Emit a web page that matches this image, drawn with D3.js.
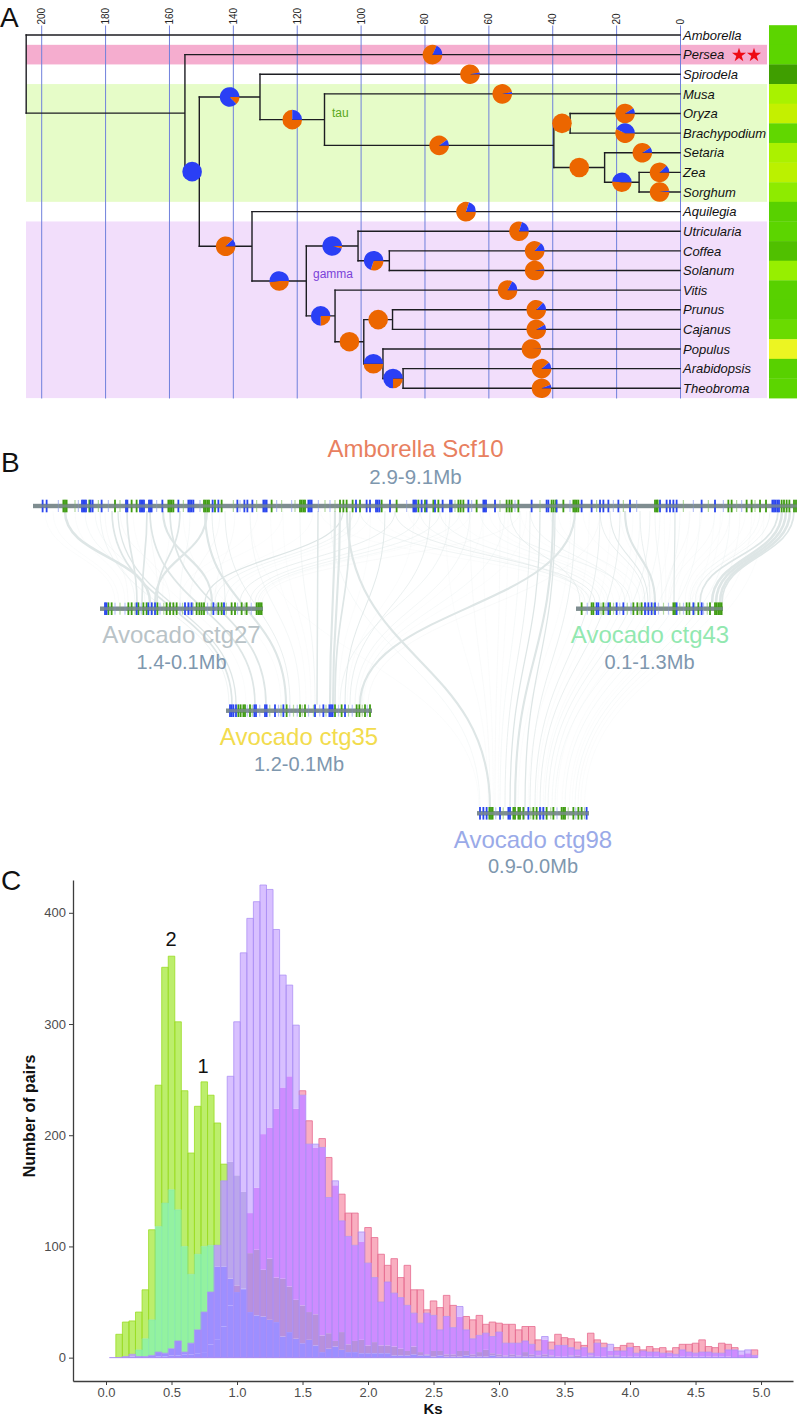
<!DOCTYPE html>
<html>
<head>
<meta charset="utf-8">
<script src="https://cdn.jsdelivr.net/npm/d3@7/dist/d3.min.js"></script>
<style>
  html, body { margin: 0; padding: 0; background: #fff; }
  text { font-family: "Liberation Sans", Arial, sans-serif; }
</style>
</head>
<body>
<div id="chart"></div>
<script>
// **** THE DATA ****

// --> panel A, the tree: one row per node, children keep their drawing order
const treeNodes   = ["root","n1","Amborella","Persea","n2","n3","n9","Spirodela","n4","Musa","n5","n6","n7","Oryza","Brachypodium","Setaria","n8","Zea","Sorghum","Aquilegia","n10","n11","n12","Utricularia","n13","Coffea","Solanum","Vitis","n14","n15","n16","Prunus","Cajanus","Populus","n17","Arabidopsis","Theobroma"]
const treeParents = [null,"root","root","n1","n1","n2","n2","n3","n3","n4","n4","n5","n5","n6","n6","n7","n7","n8","n8","n9","n9","n10","n10","n11","n11","n13","n13","n12","n12","n14","n14","n15","n15","n16","n16","n17","n17"]
// age in million years
const treeAges    = [204.7,155,0,0,150.5,131.5,134,0,111.3,0,39.5,34.4,23.6,0,0,0,12.8,0,0,0,117,100.8,108,0,91,0,0,0,99,90,93,0,0,0,86.7,0,0]
// share of the blue slice in the pie on the branch, null means no pie
const blueShare   = [null,null,null,.18,1,.87,.12,.03,.25,.03,.1,0,0,.09,.43,.09,.49,.12,.02,.2,.52,.96,.75,.2,.7,.14,.02,.17,0,0,.5,.13,.08,.003,.75,.11,.06]

const speciesNames = ["Amborella","Persea","Spirodela","Musa","Oryza","Brachypodium","Setaria","Zea","Sorghum","Aquilegia","Utricularia","Coffea","Solanum","Vitis","Prunus","Cajanus","Populus","Arabidopsis","Theobroma"]
const heatValues   = [.36,.36,0,.7,.85,.38,.72,.8,.58,.33,.36,.22,.62,.33,.33,.42,1,.33,.36]
const ageTicks     = [200,180,160,140,120,100,80,60,40,20,0]

// --> panel B, gene positions are kb from the start of each region
const amborellaBlue  = [77,109,392,403,413,424,461,477,549,744,755,856,867,877,888,928,939,949,1035,1163,1243,1256,1269,1283,1437,1483,1635,1691,1715,1755,1843,1856,1869,2203,2216,2229,2584,2669,2696,2744,2757,2771,2856,3043,3053,3064,3109,3149,3216,3277,3336,3349,3483,3603,3613,3624,3696,3989,4109,4123,4189,4389,4469,4536,4563,4603,4683,4776,5016,5069,5096,5123,5149,5349,5456,5915,5928,5941,5955,5968]
const amborellaGreen = [243,256,269,451,656,789,829,1083,1096,1109,1123,1368,1381,1395,1408,1456,1509,1909,2136,2149,2163,2176,2456,2483,2509,2557,2616,2789,2909,3083,3136,3203,3243,3403,3421,3443,3549,3789,3811,3829,3883,4149,4165,4184,4243,4323,4336,4349,4363,4976,4989,4997,5563,5589,5709,5749,5816,5864,5989,6008,6029,6051,6088,6104]
const amborellaPale  = [203,336,363,523,603,696,989,1203,1336,1603,1656,1789,1949,1989,2069,2096,2283,2336,2376,2416,2989,3376,3509,3736,3856,4056,4296,4509,4643,4723,4829,5203,5283,5403,5523,5629,5669,5776]

const ctg27Blue  = [40,51,293,387,413,440,680,707,733,907,992]
const ctg27Green = [67,93,227,253,307,347,373,459,533,560,587,613,773,795,813,832,947,973,1053,1080,1133,1173,1253,1267,1280,1293]
const ctg27Pale  = [120,160,200,280,330,420,480,510,640,660,720,745,860,890,930,1010,1100,1160,1210]
const ctg43Blue  = [165,179,259,325,379,552,579,605,632,805,939,1005]
const ctg43Green = [45,125,139,219,272,459,491,525,779,792,885,907,979,1072,1112,1125,1139,1152,1165]
const ctg43Pale  = [90,200,240,300,350,410,440,510,560,620,660,700,740,830,860,950,1020,1050]
const ctg35Blue  = [32,45,59,80,227,240,312,325,392,459,712,779,827,840,853,952]
const ctg35Green = [99,117,139,152,192,485,592,632,872,925,1045,1067,1112,1152]
const ctg35Pale  = [170,210,270,350,420,440,510,540,570,610,660,700,750,800,900,980,1010,1090,1130]
const ctg98Blue  = [24,51,77,184,251,264,411,504,531,877]
const ctg98Green = [99,112,125,291,304,331,344,371,451,477,557,611,677,691,704,771,811,837]
const ctg98Pale  = [150,210,380,430,520,590,640,730,790,860]

// links: kb on Amborella, kb on the contig, weight of the ribbon
const ctg27Links = [[256,400,3],[752,296,2],[912,336,2],[1040,896,2.5],[1176,456,2],[1392,440,2.5],[1432,1000,1],[416,280,.6],[496,360,.6],[696,560,.5],[1496,720,.5],[1616,920,.5],[2480,840,1.5],[2560,920,.8],[2616,1000,.6],[2896,1120,1],[3096,1200,.8],[3256,1240,.8],[3416,1264,.6],[3896,1296,.5],[96,120,.4],[336,200,.4],[576,224,.5],[936,464,.5],[1256,640,.6],[1800,640,.4],[2000,700,.4],[2240,900,.4],[2700,1050,.4],[3500,1280,.4],[160,150,.4],[1100,500,.4]]
const ctg35Links = [[632,48,2],[680,80,1.5],[536,24,.8],[936,232,2],[1096,320,2],[1376,480,2.5],[1536,512,1],[1736,592,.7],[2136,712,.7],[2280,728,1.8],[2416,832,2.5],[2456,856,2.5],[2536,872,2],[2816,952,1.2],[3176,992,1],[3496,1032,.7],[4336,1072,2.5],[3776,1088,.6],[3336,912,.8],[4536,1136,.5],[1900,640,.4],[2000,680,.4],[2700,900,.4],[3050,970,.4],[3600,1060,.4],[3950,1100,.4],[800,160,.4],[1200,440,.4]]
const ctg98Links = [[2512,104,2.5],[2376,24,.6],[1736,16,.4],[4160,304,2.5],[4056,264,1.5],[3976,224,1],[4176,384,1.5],[4336,424,1],[4536,464,1],[4696,504,1],[4856,544,.6],[4936,568,.8],[5176,624,.6],[5336,704,.6],[5576,784,.6],[5656,808,.5],[3896,184,.6],[3736,144,.5],[3496,104,.5],[5016,600,.6],[3300,90,.4],[3600,130,.4],[3800,170,.4],[4300,330,.4],[4450,410,.4],[4620,480,.4],[4800,530,.4],[5100,640,.4],[5250,680,.4],[5450,740,.4],[5500,760,.4],[5750,830,.4],[5850,860,.4]]
const ctg43Links = [[2616,112,.8],[2896,152,1],[3096,72,.7],[3256,192,.8],[3576,256,.6],[3816,32,1],[3976,392,.8],[3720,432,.8],[4136,512,.6],[4536,552,1],[4616,576,1.2],[4736,632,2.5],[4856,592,1],[4976,688,.7],[5136,784,1.5],[5256,712,.5],[5456,752,.5],[5576,872,.5],[5816,912,.6],[5896,952,.8],[5960,992,2],[5992,1088,3],[6024,1120,3],[6056,1152,3],[6088,1168,2],[2300,60,.4],[2750,120,.4],[3000,100,.4],[3400,230,.4],[3650,300,.4],[3900,350,.4],[4200,450,.4],[4400,540,.4],[4700,610,.4],[5050,720,.4],[5350,740,.4],[5520,820,.4],[5700,900,.4],[5780,930,.4],[5850,960,.4]]

// --> panel C, number of pairs per Ks bin, bins are centred on 0.05, 0.10 ... 4.95
const greenPairs  = [0,21,32,33,41,61,115,245,351,361,302,240,184,226,248,236,211,174,176,164,149,94,97,79,89,72,71,64,52,47,41,39,20,22,15,23,12,15,16,11,14,11,11,10,8,6,10,5,3,6,6,3,3,6,6,3,5,7,4,3,2,3,2,5,3,2,3,2,1,1,2,2,1,2,1,1,2,2,1,1,1,1,1,1,0,1,1,1,1,1,0,1,1,1,1,0,0,0,0]
const mintPairs   = [0,0,0,1,7,17,34,118,139,151,133,100,75,93,100,101,82,82,71,59,62,41,38,37,34,32,19,23,17,13,16,11,5,8,10,7,5,5,4,4,4,4,4,2,2,2,3,2,2,1,2,1,1,1,2,1,1,1,2,1,1,1,1,1,1,1,1,1,0,1,1,0,1,1,1,0,1,1,1,0,1,0,1,1,0,0,1,1,0,0,1,0,0,1,0,0,0,0,0]
const redPairs    = [0,0,0,0,0,0,0,1,1,2,2,3,3,4,5,12,16,28,47,65,61,130,153,201,207,224,243,253,224,240,213,189,197,180,155,147,130,130,104,117,108,93,83,89,72,83,61,61,43,51,45,56,47,37,37,34,38,30,32,31,30,30,25,28,28,16,16,14,21,18,17,14,11,22,16,13,6,9,11,13,10,7,10,8,9,6,9,12,12,13,16,10,9,13,12,9,3,4,7]
const purplePairs = [0,0,1,3,1,1,2,5,4,8,15,5,13,25,41,59,101,159,253,302,364,395,410,425,421,385,344,335,299,236,192,192,189,144,159,123,109,101,113,85,72,50,68,58,54,47,40,31,40,38,25,37,27,46,25,17,20,22,19,23,13,13,13,15,12,6,19,7,11,11,9,7,9,4,13,9,12,6,6,9,4,6,5,5,4,4,3,7,5,4,5,5,4,4,7,7,6,7,2]
const pairsTicks  = [0,100,200,300,400]
const ksTicks     = [0,0.5,1,1.5,2,2.5,3,3.5,4,4.5,5]

//------------------------------------------------------------------------------

// **** THE SETUP ****

const svg = d3.select("#chart").append("svg")
    .attr("width", 800)
    .attr("height", 1420)
    .style("display", "block")

// panel letters
svg.selectAll(".letter")
    .data([["A", 0, 27], ["B", 1, 472], ["C", 1, 890]])
  .enter().append("text")
    .attr("class", "letter")
    .attr("x", (d) => d[1])
    .attr("y", (d) => d[2])
    .attr("font-size", 28)
    .attr("fill", "#111")
    .text((d) => d[0])

//------------------------------------------------------------------------------

// **** PANEL A ****

const ageScale = d3.scaleLinear().domain([0, 200]).range([680, 41.2])
const rowScale = d3.scalePoint().domain(speciesNames).range([35, 388.3])
const rowStep = rowScale.step()

const panelA = svg.append("g")

// coloured bands behind the tree
const bands = [["Persea", "Persea", "#f5adcf"], ["Musa", "Sorghum", "#e6fcc8"], ["Utricularia", "Theobroma", "#f2defb"]]
panelA.selectAll(".band")
    .data(bands)
  .enter().append("rect")
    .attr("class", "band")
    .attr("x", 26)
    .attr("width", 741)
    .attr("y", (d) => rowScale(d[0]) - rowStep / 2)
    .attr("height", (d) => rowScale(d[1]) - rowScale(d[0]) + rowStep)
    .attr("fill", (d) => d[2])

// time axis, the ticks run down as the grid
const ageAxis = panelA.append("g")
    .attr("transform", "translate(0,25.5)")
    .call(d3.axisTop(ageScale).tickValues(ageTicks).tickFormat(d3.format("d")).tickSize(-373))
ageAxis.select(".domain").remove()
ageAxis.selectAll("line").attr("stroke", "#6f80dc").attr("stroke-width", 1)
ageAxis.selectAll("text")
    .attr("transform", "rotate(-90)")
    .attr("x", 1)
    .attr("y", 0)
    .attr("dy", ".35em")
    .attr("text-anchor", "start")
    .attr("font-size", 10)
    .attr("font-family", "Liberation Sans")
    .attr("fill", "#222")

// build the tree from the flat lists
const tree = d3.stratify()
    .id((d) => d.name)
    .parentId((d) => d.parent)(treeNodes.map((name, i) => ({name: name, parent: treeParents[i], age: treeAges[i], blue: blueShare[i]})))

tree.eachAfter((n) => {
  n.py = n.children ? (n.children[0].py + n.children[n.children.length - 1].py) / 2 : rowScale(n.id)
  n.px = ageScale(n.data.age)
})

const branchPath = (n) => {
  let p = ""
  if (n.parent) p += "M" + n.parent.px + "," + n.py + "H" + n.px
  if (n.children) p += "M" + n.px + "," + n.children[0].py + "V" + n.children[n.children.length - 1].py
  return p
}

panelA.append("g").selectAll("path")
    .data(tree.descendants())
  .enter().append("path")
    .attr("d", branchPath)
    .attr("fill", "none")
    .attr("stroke", "#1d1d22")
    .attr("stroke-width", 1.4)
    .attr("stroke-linecap", "square")

// pies sit half way along the branch, orange starts at 3 o'clock going clockwise
const pie = d3.pie().sort(null).startAngle(Math.PI / 2).endAngle(Math.PI * 2.5)
const arc = d3.arc().innerRadius(0).outerRadius(9.8)

const pies = panelA.append("g").selectAll("g")
    .data(tree.descendants().filter((n) => n.data.blue !== null))
  .enter().append("g")
    .attr("transform", (n) => "translate(" + (n.parent.px + n.px) / 2 + "," + n.py + ")")

pies.selectAll("path")
    .data((n) => pie([1 - n.data.blue, n.data.blue]))
  .enter().append("path")
    .attr("d", arc)
    .attr("fill", (d, i) => i === 0 ? "#ec6600" : "#2a3ff5")

// species names
panelA.selectAll(".species")
    .data(speciesNames)
  .enter().append("text")
    .attr("class", "species")
    .attr("x", 683)
    .attr("y", (d) => rowScale(d))
    .attr("dy", ".36em")
    .attr("font-size", 13)
    .attr("font-style", "italic")
    .attr("fill", "#111")
    .text((d) => d)

// two stars on the Persea row
panelA.selectAll(".star")
    .data([739, 754])
  .enter().append("path")
    .attr("class", "star")
    .attr("d", d3.symbol(d3.symbolStar, 62))
    .attr("transform", (d) => "translate(" + d + "," + (rowScale("Persea") + .5) + ")")
    .attr("fill", "#ee0a14")

// labels on the branches
panelA.append("text").attr("x", 332).attr("y", 117).attr("font-size", 12).attr("fill", "#5aa820").text("tau")
panelA.append("text").attr("x", 313).attr("y", 278).attr("font-size", 12).attr("fill", "#7a42d8").text("gamma")

// heat strip on the right
const heatColor = d3.scaleLinear()
    .domain([0, .35, .65, .85, 1])
    .range(["#3f9e00", "#5ad400", "#9ef200", "#c4f000", "#ecf522"])

panelA.selectAll(".heat")
    .data(speciesNames)
  .enter().append("rect")
    .attr("class", "heat")
    .attr("x", 769)
    .attr("width", 28)
    .attr("y", (d) => rowScale(d) - rowStep / 2)
    .attr("height", rowStep + .3)
    .attr("fill", (d, i) => heatColor(heatValues[i]))

//------------------------------------------------------------------------------

// **** PANEL B ****

const panelB = svg.append("g")

// every scale has the same kb per pixel, only the place on the page differs
const amborellaScale = d3.scaleLinear().domain([0, 6112]).range([33, 797])
const contigs = [
  {name: "Avocado ctg27", range: "1.4-0.1Mb", kb: 1304, x: [100, 263], y: 608.7, color: "#b9c3c7", blue: ctg27Blue, green: ctg27Green, pale: ctg27Pale, links: ctg27Links},
  {name: "Avocado ctg43", range: "0.1-1.3Mb", kb: 1176, x: [576, 723], y: 608.7, color: "#92e8b0", blue: ctg43Blue, green: ctg43Green, pale: ctg43Pale, links: ctg43Links},
  {name: "Avocado ctg35", range: "1.2-0.1Mb", kb: 1168, x: [226, 372], y: 710.7, color: "#f2dc4e", blue: ctg35Blue, green: ctg35Green, pale: ctg35Pale, links: ctg35Links},
  {name: "Avocado ctg98", range: "0.9-0.0Mb", kb: 896, x: [477, 589], y: 813.3, color: "#9aaae8", blue: ctg98Blue, green: ctg98Green, pale: ctg98Pale, links: ctg98Links}
]
contigs.forEach((c) => { c.scale = d3.scaleLinear().domain([0, c.kb]).range(c.x) })

// --> ribbons first, so they sit under the tracks
const ribbon = d3.linkVertical()
const ribbonOpacity = d3.scaleLinear().domain([.4, 1.5]).range([.4, 1]).clamp(true)

contigs.forEach((c) => {
  panelB.append("g").selectAll("path")
      .data(c.links)
    .enter().append("path")
      .attr("d", (d) => ribbon({source: [amborellaScale(d[0]), 511], target: [c.scale(d[1]), c.y - 6]}))
      .attr("fill", "none")
      .attr("stroke", "#dee6e6")
      .attr("stroke-width", (d) => d[2] * .85)
      .attr("stroke-opacity", (d) => ribbonOpacity(d[2]))
})

// --> tracks
const drawTrack = (scale, y, blue, green, pale) => {
  const track = panelB.append("g")
  track.append("rect")
      .attr("x", scale.range()[0])
      .attr("width", scale.range()[1] - scale.range()[0])
      .attr("y", y - 2.2)
      .attr("height", 4.4)
      .attr("fill", "#7f8d90")
  track.selectAll(".pale")
      .data(pale)
    .enter().append("rect")
      .attr("class", "pale")
      .attr("x", (d) => scale(d) - .6)
      .attr("width", 1.2)
      .attr("y", y - 6)
      .attr("height", 12)
      .attr("fill", (d, i) => i % 2 ? "#7fc060" : "#8c9cf0")
      .attr("fill-opacity", .6)
  const ticks = (values, color) => {
    track.append("g").selectAll("rect")
        .data(values)
      .enter().append("rect")
        .attr("x", (d) => scale(d) - .9)
        .attr("width", 1.8)
        .attr("y", y - 6.3)
        .attr("height", 12.6)
        .attr("fill", color)
  }
  ticks(green, "#3f9c12")
  ticks(blue, "#2a45ee")
  // the grey line stays visible through the genes
  track.append("rect")
      .attr("x", scale.range()[0])
      .attr("width", scale.range()[1] - scale.range()[0])
      .attr("y", y - 1.6)
      .attr("height", 3.2)
      .attr("fill", "#7f8d90")
      .attr("fill-opacity", .75)
}

drawTrack(amborellaScale, 506, amborellaBlue, amborellaGreen, amborellaPale)
contigs.forEach((c) => drawTrack(c.scale, c.y, c.blue, c.green, c.pale))

// --> titles
panelB.append("text").attr("x", 415.5).attr("y", 457).attr("text-anchor", "middle").attr("font-size", 24).attr("fill", "#e88060").text("Amborella Scf10")
panelB.append("text").attr("x", 415.5).attr("y", 484).attr("text-anchor", "middle").attr("font-size", 20.5).attr("fill", "#7e97ae").text("2.9-9.1Mb")

panelB.selectAll(".contigName")
    .data(contigs)
  .enter().append("text")
    .attr("class", "contigName")
    .attr("x", (c) => (c.x[0] + c.x[1]) / 2 + (c.name === "Avocado ctg43" ? .5 : 0))
    .attr("y", (c) => c.y + 34.5)
    .attr("text-anchor", "middle")
    .attr("font-size", 24)
    .attr("fill", (c) => c.color)
    .text((c) => c.name)

panelB.selectAll(".contigRange")
    .data(contigs)
  .enter().append("text")
    .attr("class", "contigRange")
    .attr("x", (c) => (c.x[0] + c.x[1]) / 2)
    .attr("y", (c) => c.y + 60)
    .attr("text-anchor", "middle")
    .attr("font-size", 20)
    .attr("fill", "#7e97ae")
    .text((c) => c.range)

//------------------------------------------------------------------------------

// **** PANEL C ****

const panelC = svg.append("g")

const ksScale = d3.scaleLinear().domain([-0.252, 5.244]).range([73, 793])
const pairsScale = d3.scaleLinear().domain([-21, 429.5]).range([1381, 880])
const halfBin = 0.025
const binCenters = d3.range(1, 100).map((i) => i * 0.05)

// The overlaps do not mix like plain alpha, so each bin is cut at the series
// heights and each slice gets the colour seen in that overlap
const sliceColor = (g, m, r, p) => {
  if (p) {
    if (m) return "#9d8fff"
    if (g) return r ? "#b890dc" : "#bba6ec"
    return r ? "#ce8cff" : "#d8c0ff"
  }
  if (m && g) return "#93f2a0"
  if (g) return "#bcee6c"
  return "#f9aec0"
}

const bins = panelC.append("g").selectAll("g")
    .data(binCenters)
  .enter().append("g")

bins.each(function (center, i) {
  const v = [greenPairs[i], mintPairs[i], redPairs[i], purplePairs[i]]
  const levels = [0, ...Array.from(new Set(v)).sort(d3.ascending).filter((d) => d > 0)]
  d3.select(this).selectAll("rect")
      .data(d3.pairs(levels))
    .enter().append("rect")
      .attr("x", ksScale(center - halfBin))
      .attr("width", ksScale(center + halfBin) - ksScale(center - halfBin))
      .attr("y", (d) => pairsScale(d[1]))
      .attr("height", (d) => pairsScale(d[0]) - pairsScale(d[1]))
      .attr("fill", (d) => sliceColor(v[0] >= d[1], v[1] >= d[1], v[2] >= d[1], v[3] >= d[1]))
})

// Outlines on top, each one only down to the series that covers it
const outlines = [
  {values: greenPairs, over: [mintPairs, purplePairs], color: "#98dc20", opacity: .9},
  {values: mintPairs, over: [purplePairs], color: "#7fe6a8", opacity: .6},
  {values: redPairs, over: [purplePairs], color: "#e66c90", opacity: .95},
  {values: purplePairs, over: [], color: "#ab8ef4", opacity: .9}
]
outlines.forEach((s) => {
  panelC.append("g").selectAll("path")
      .data(binCenters)
    .enter().append("path")
      .attr("d", (d, i) => {
        const under = d3.max(s.over, (a) => a[i]) || 0
        if (s.values[i] <= under) return null
        const x0 = ksScale(d - halfBin)
        const x1 = ksScale(d + halfBin)
        return "M" + x0 + "," + pairsScale(under) + "V" + pairsScale(s.values[i]) + "H" + x1 + "V" + pairsScale(under)
      })
      .attr("fill", "none")
      .attr("stroke", s.color)
      .attr("stroke-opacity", s.opacity)
      .attr("stroke-width", .85)
})

// the purple series closes along the baseline
panelC.append("line")
    .attr("x1", ksScale(binCenters[0] - halfBin))
    .attr("x2", ksScale(binCenters[binCenters.length - 1] + halfBin))
    .attr("y1", pairsScale(0))
    .attr("y2", pairsScale(0))
    .attr("stroke", "#a88af2")

// --> axes
const styleAxis = (g) => {
  g.selectAll(".domain").attr("stroke", "#3d3d3d").attr("stroke-width", 1.3)
  g.selectAll("line").attr("stroke", "#3d3d3d").attr("stroke-width", 1)
  g.selectAll("text").attr("font-size", 13).attr("font-family", "Liberation Sans").attr("fill", "#4d4d4d")
}

panelC.append("g")
    .attr("transform", "translate(73,0)")
    .call(d3.axisLeft(pairsScale).tickValues(pairsTicks).tickSize(4).tickSizeOuter(0).tickPadding(3))
    .call(styleAxis)

panelC.append("g")
    .attr("transform", "translate(0,1381)")
    .call(d3.axisBottom(ksScale).tickValues(ksTicks).tickFormat(d3.format(".1f")).tickSize(4).tickSizeOuter(0).tickPadding(3))
    .call(styleAxis)

panelC.append("text")
    .attr("x", 433)
    .attr("y", 1414)
    .attr("text-anchor", "middle")
    .attr("font-size", 15)
    .attr("font-weight", "bold")
    .attr("fill", "#111")
    .text("Ks")

panelC.append("text")
    .attr("transform", "translate(35,1116) rotate(-90)")
    .attr("text-anchor", "middle")
    .attr("font-size", 16)
    .attr("font-weight", "bold")
    .attr("fill", "#111")
    .text("Number of pairs")

// the two peak labels
panelC.append("text").attr("x", 171).attr("y", 946).attr("text-anchor", "middle").attr("font-size", 20).attr("fill", "#111").text("2")
panelC.append("text").attr("x", 203).attr("y", 1073).attr("text-anchor", "middle").attr("font-size", 20).attr("fill", "#111").text("1")
</script>
</body>
</html>
